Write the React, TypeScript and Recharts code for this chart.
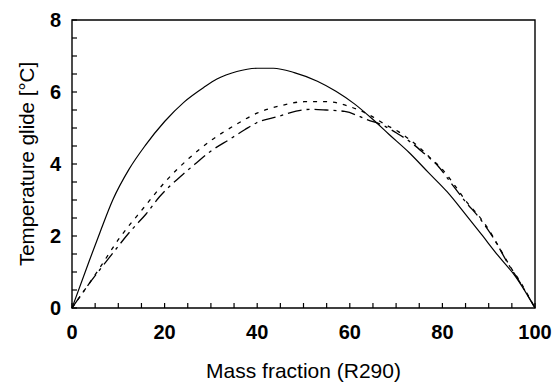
import React from 'react';
import { LineChart, Line, XAxis, YAxis, ReferenceArea, Label } from 'recharts';

// Mass fraction (R290) [%] and temperature glide [°C]
const solidMass = [0, 3.7, 6.1, 8.8, 12.3, 15.8, 20, 24.2, 28.5, 31.3, 35.6, 40, 43.5, 48, 53, 57, 61, 64.7, 68.5, 72.8, 77, 81, 85, 88.4, 92, 95.8, 100];
const solidGlide = [0, 1.3, 2.12, 3.0, 3.85, 4.51, 5.18, 5.72, 6.13, 6.36, 6.57, 6.66, 6.66, 6.54, 6.3, 6.02, 5.67, 5.27, 4.82, 4.32, 3.76, 3.23, 2.6, 2.05, 1.46, 0.87, 0];

const dottedMass = [0, 5.2, 10.3, 15.4, 20.3, 25.2, 30.2, 35.2, 40.1, 45.1, 50.2, 55.2, 60.3, 64.7, 67.6, 70.5, 72.8, 75, 77.2, 79.8, 82.7, 85.4, 87.6, 89.8, 92.4, 94.7, 97, 100];
const dottedGlide = [0, 0.96, 1.95, 2.77, 3.53, 4.15, 4.67, 5.08, 5.42, 5.62, 5.73, 5.73, 5.58, 5.33, 5.1, 4.9, 4.69, 4.46, 4.19, 3.88, 3.4, 2.92, 2.6, 2.22, 1.65, 1.14, 0.69, 0];

const dashDotMass = [0, 3.1, 8, 13, 16, 18.9, 23.5, 26.5, 29.9, 34.1, 37.3, 39.8, 44.5, 48.4, 51.7, 54.9, 58.9, 64, 66.9, 70.6, 73, 76, 79, 82, 85, 88, 91, 94, 97, 100];
const dashDotGlide = [0, 0.57, 1.39, 2.19, 2.61, 3.09, 3.66, 3.99, 4.35, 4.69, 4.95, 5.14, 5.32, 5.47, 5.52, 5.5, 5.46, 5.22, 5.09, 4.82, 4.62, 4.3, 3.95, 3.45, 2.95, 2.5, 1.95, 1.27, 0.66, 0];

const xTicks = [0, 5, 10, 15, 20, 25, 30, 35, 40, 45, 50, 55, 60, 65, 70, 75, 80, 85, 90, 95, 100];
const xLabelTicks = [0, 20, 40, 60, 80, 100];
const yTicks = [0, 0.5, 1, 1.5, 2, 2.5, 3, 3.5, 4, 4.5, 5, 5.5, 6, 6.5, 7, 7.5, 8];
const yLabelTicks = [0, 2, 4, 6, 8];

const toRows = (xs: number[], ys: number[]) => xs.map((x, i) => ({ x, y: ys[i] }));
const solidData = toRows(solidMass, solidGlide);
const dottedData = toRows(dottedMass, dottedGlide);
const dashDotData = toRows(dashDotMass, dashDotGlide);

const FONT = '"Liberation Sans", Arial, sans-serif';

export default function App() {
  return (
    <div
      style={{
        position: 'absolute',
        left: 0,
        top: 0,
        width: 554,
        height: 385,
        overflow: 'hidden',
        background: '#fff',
      }}
    >
      <LineChart
        width={554}
        height={385}
        margin={{ top: 20, right: 19, left: 8, bottom: 0 }}
        style={{ fontFamily: FONT }}
      >
        <XAxis
          dataKey="x"
          type="number"
          domain={[0, 100]}
          ticks={xTicks}
          interval={0}
          tickFormatter={(v: number) => (xLabelTicks.includes(v) ? String(v) : '')}
          tickSize={-5}
          tickMargin={22}
          axisLine={false}
          tickLine={{ stroke: '#000', strokeWidth: 1.2 }}
          tick={{ fill: '#000', fontSize: 20, fontWeight: 700, fontFamily: FONT }}
          height={77}
        >
          <Label
            value="Mass fraction (R290)"
            position="insideBottom"
            offset={7}
            style={{ fill: '#000', fontSize: 21, fontFamily: FONT }}
          />
        </XAxis>
        <YAxis
          type="number"
          domain={[0, 8]}
          ticks={yTicks}
          interval={0}
          tickFormatter={(v: number) => (yLabelTicks.includes(v) ? String(v) : '')}
          tickSize={-5}
          tickMargin={16}
          axisLine={false}
          tickLine={{ stroke: '#000', strokeWidth: 1.2 }}
          tick={{ fill: '#000', fontSize: 20, fontWeight: 700, fontFamily: FONT }}
          width={64}
        >
          <Label
            value="Temperature glide [°C]"
            angle={-90}
            position="insideLeft"
            offset={19}
            style={{ fill: '#000', fontSize: 20.5, fontFamily: FONT, textAnchor: 'middle' }}
          />
        </YAxis>
        <ReferenceArea x1={0} x2={100} y1={0} y2={8} fill="none" stroke="#000" strokeWidth={1.4} fillOpacity={0} />
        <Line
          data={solidData}
          dataKey="y"
          type="monotone"
          stroke="#000"
          strokeWidth={1.2}
          dot={false}
          activeDot={false}
          isAnimationActive={false}
        />
        <Line
          data={dottedData}
          dataKey="y"
          type="monotone"
          stroke="#000"
          strokeWidth={1.3}
          strokeDasharray="4 6"
          dot={false}
          activeDot={false}
          isAnimationActive={false}
        />
        <Line
          data={dashDotData}
          dataKey="y"
          type="monotone"
          stroke="#000"
          strokeWidth={1.3}
          strokeDasharray="14 5 3 5"
          dot={false}
          activeDot={false}
          isAnimationActive={false}
        />
      </LineChart>
    </div>
  );
}
